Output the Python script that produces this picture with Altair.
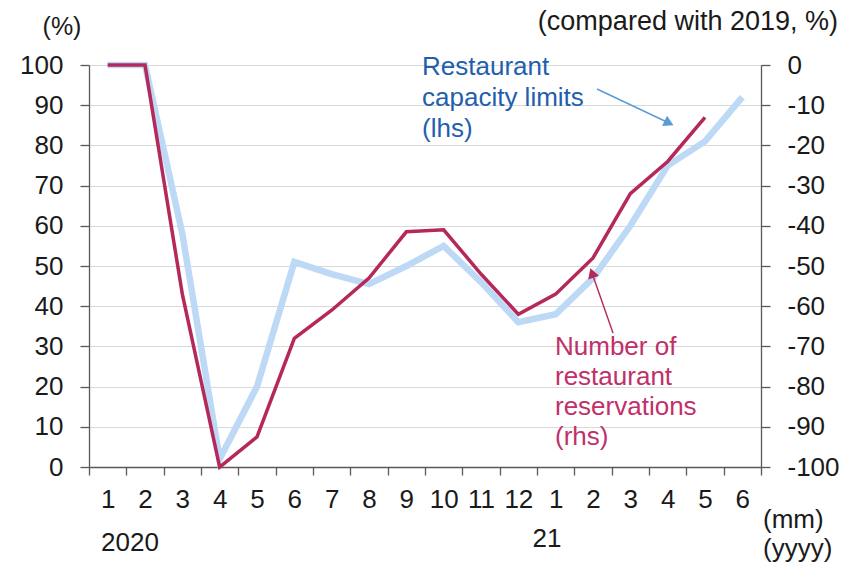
import altair as alt
import pandas as pd

# Monthly series, January 2020 to June 2021
years = [2020] * 12 + [2021] * 6
months = list(range(1, 13)) + list(range(1, 7))

# Restaurant capacity limits, % (left axis)
capacity = [100, 100, 58, 2, 20, 51, 48, 45.5, 50, 55, 46, 36,
            38, 47, 60, 75, 81, 92]

# Number of restaurant reservations, compared with 2019, % (right axis)
reservations = [0, 0, -57, -100, -92.5, -68, -61, -53, -41.5, -41, -52, -62,
                -57, -48, -32, -24, -13]

left_ticks = list(range(0, 101, 10))
right_ticks = list(range(-100, 1, 10))

period = [f"{y}-{m}" for y, m in zip(years, months)]
cap_df = pd.DataFrame({"period": period, "capacity": capacity})
res_df = pd.DataFrame({"period": period[:len(reservations)],
                       "reservations": reservations})

W, H = 672, 402
FONT = "Liberation Sans"
FS = 26
BLUE_LINE = "#BDD9F6"
RED_LINE = "#B5285A"
BLUE_TEXT = "#1F5FAD"
RED_TEXT = "#C0306A"
AXIS_COLOR = "#595959"

x_enc = alt.X(
    "period:N",
    sort=period,
    bandPosition=0.5,
    scale=alt.Scale(type="band", domain=period, paddingInner=0, paddingOuter=0),
    axis=alt.Axis(
        title=None,
        labelExpr="split(datum.value, '-')[1]",
        tickBand="extent",
        labelAngle=0,
        labelPadding=11,
        tickSize=8,
        grid=False,
    ),
)

cap_line = alt.Chart(cap_df).mark_line(
    color=BLUE_LINE, strokeWidth=6.5, strokeJoin="miter"
).encode(
    x=x_enc,
    y=alt.Y(
        "capacity:Q",
        scale=alt.Scale(domain=[0, 100], nice=False),
        axis=alt.Axis(
            title=None, orient="left", values=left_ticks, grid=True,
            gridColor="#D9D9D9", tickSize=9, labelPadding=17,
        ),
    ),
)

res_line = alt.Chart(res_df).mark_line(
    color=RED_LINE, strokeWidth=3.5
).encode(
    x=x_enc,
    y=alt.Y(
        "reservations:Q",
        scale=alt.Scale(domain=[-100, 0], nice=False),
        axis=alt.Axis(
            title=None, orient="right", values=right_ticks, grid=False,
            tickSize=9, labelPadding=17,
            labelExpr="datum.value < 0 ? '-' + abs(datum.value) : '' + datum.value",
        ),
    ),
)

base = alt.Chart(pd.DataFrame({"a": [0]}))


def label(text, x, y, color="#1a1a1a", align="center", baseline="middle",
          size=FS, line_height=None):
    kw = dict(font=FONT, fontSize=size, color=color, align=align, baseline=baseline)
    if line_height is not None:
        kw["lineHeight"] = line_height
    return base.mark_text(**kw).encode(
        x=alt.value(x), y=alt.value(y), text=alt.value(text)
    )


def arrow(x1, y1, x2, y2, angle, color):
    shaft = base.mark_rule(color=color, strokeWidth=1.4).encode(
        x=alt.value(x1), y=alt.value(y1), x2=alt.value(x2), y2=alt.value(y2)
    )
    head = base.mark_point(
        shape="triangle-up", filled=True, size=130, color=color, opacity=1,
        angle=angle,
    ).encode(x=alt.value(x2), y=alt.value(y2))
    return shaft + head


annotations = [
    label("(%)", -27, -38, size=25),
    label("(compared with 2019, %)", 749, -35, align="right", baseline="alphabetic",
          size=27),
    label("(mm)", 674, 455, align="left"),
    label("(yyyy)", 674, 484, align="left"),
    label("2020", 41, 478),
    label("21", 458, 474),
    label(["Restaurant", "capacity limits", "(lhs)"], 333, 10, color=BLUE_TEXT,
          align="left", baseline="alphabetic", line_height=31),
    label(["Number of", "restaurant", "reservations", "(rhs)"], 466, 290,
          color=RED_TEXT, align="left", baseline="alphabetic", line_height=30),
    arrow(508, 24, 580, 58, 116, "#5B9BD5"),
    arrow(524, 268, 503, 208, 341, RED_LINE),
]

chart = alt.layer(cap_line, res_line, *annotations).resolve_scale(
    y="independent"
).properties(
    width=W,
    height=H,
    autosize=alt.AutoSizeParams(type="none"),
    padding={"left": 89, "top": 65, "right": 85, "bottom": 95},
    background="white",
).configure_view(
    stroke=None
).configure_axis(
    labelFont=FONT,
    labelFontSize=FS,
    labelColor="#1a1a1a",
    domainColor=AXIS_COLOR,
    tickColor=AXIS_COLOR,
    domainWidth=1.3,
    tickWidth=1.3,
)

chart.save("out.html", embed_options={"renderer": "svg", "actions": False})
